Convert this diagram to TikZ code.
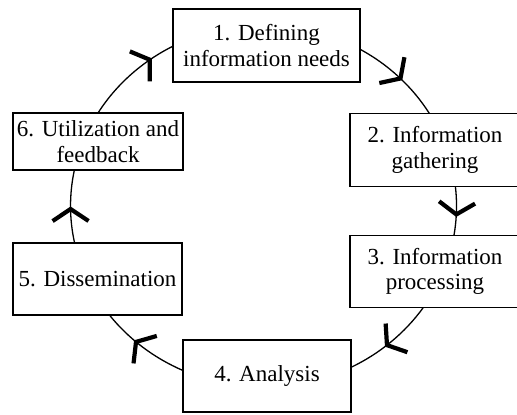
\documentclass[tikz,border=0pt]{standalone}
\usepackage{fontspec}
\setmainfont{Liberation Serif}
\usetikzlibrary{arrows.meta,decorations.markings}
\tikzset{
  stage/.style={draw=black, line width=1.7pt, fill=white, inner sep=0pt, outer sep=0pt,
    align=center, font=\fontsize{23}{25.5}\selectfont},
  flow/.style={draw=black, line width=1.3pt},
  midarrow/.style={postaction={decorate, decoration={markings,
    mark=at position #1 with {\arrow{Straight Barb[length=12pt, width=36pt, line width=4.2pt, line cap=butt]}}}}}
}
\begin{document}
\begin{tikzpicture}[x=1pt,y=1pt]
\useasboundingbox (0,0) rectangle (517,-415);
\clip (0,0) rectangle (517,-415);
\node[stage, minimum width=187pt, minimum height=73pt] (n1) at (266.5,-45.5) {1. Defining\\information needs};
\node[stage, minimum width=170pt, minimum height=73pt] (n2) at (435,-150) {2. Information\\gathering};
\node[stage, minimum width=170pt, minimum height=72pt] (n3) at (435,-271.5) {3. Information\\processing};
\node[stage, minimum width=168pt, minimum height=72.5pt] (n4) at (267,-376) {4. Analysis};
\node[stage, minimum width=169pt, minimum height=72pt] (n5) at (97.5,-279) {5. Dissemination};
\node[stage, minimum width=170pt, minimum height=57pt] (n6) at (98,-141.5) {6. Utilization and\\feedback};
% connectors (clockwise, along an ellipse)
\draw[flow, midarrow=0.76] (n6.north) arc[start angle=149.08, end angle=117.96, x radius=193pt, y radius=181pt];
\draw[flow, midarrow=0.55] ([yshift=-3.75pt]n1.east) arc[start angle=60, end angle=30.73, x radius=193pt, y radius=181pt];
\draw[flow, midarrow=0.62] ([xshift=20.4pt]n2.south) arc[start angle=6.19, end angle=-9.38, x radius=193pt, y radius=181pt];
\draw[flow, midarrow=0.58] ([xshift=-11.7pt]n3.south) arc[start angle=-34.11, end angle=-63.04, x radius=193pt, y radius=181pt];
\draw[flow, midarrow=0.62] ([yshift=5.5pt]n4.west) arc[start angle=-114.65, end angle=-142.97, x radius=193pt, y radius=181pt];
\draw[flow, midarrow=0.50] ([xshift=-22.9pt]n5.north) arc[start angle=-168.2, end angle=-191.47, x radius=193pt, y radius=181pt];
\end{tikzpicture}
\end{document}
